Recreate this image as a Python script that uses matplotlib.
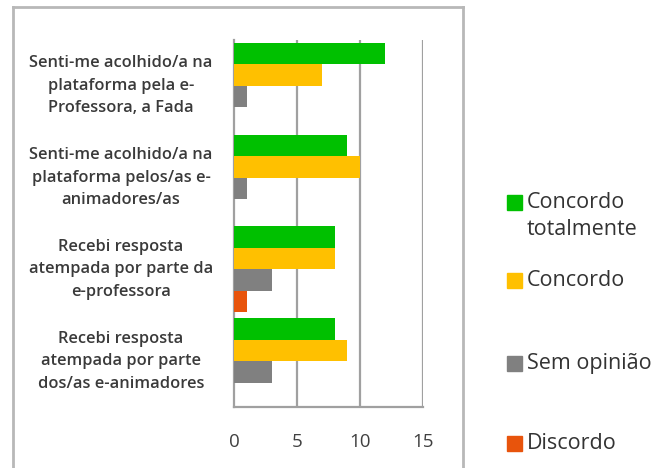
import numpy as np
import matplotlib.pyplot as plt
import matplotlib.transforms as mtransforms
from matplotlib.lines import Line2D
from matplotlib.patches import Rectangle

categories = [
    "Senti-me acolhido/a na\nplataforma pela e-\nProfessora, a Fada",
    "Senti-me acolhido/a na\nplataforma pelos/as e-\nanimadores/as",
    "Recebi resposta\natempada por parte da\ne-professora",
    "Recebi resposta\natempada por parte\ndos/as e-animadores",
]
series = ["Concordo\ntotalmente", "Concordo", "Sem opinião", "Discordo"]
concordo_totalmente = [12, 9, 8, 8]
concordo = [7, 10, 8, 9]
sem_opiniao = [1, 1, 3, 3]
discordo = [0, 0, 1, 0]
values = [concordo_totalmente, concordo, sem_opiniao, discordo]
colors = ["#00c000", "#ffc000", "#808080", "#e8540c"]
xticks = [0, 5, 10, 15]

plt.rcParams["font.family"] = ["Open Sans", "DejaVu Sans"]

fig = plt.figure(figsize=(6.68, 4.68), dpi=100)
W, H = 668, 468
ax = fig.add_axes([234 / W, 1 - 407 / H, (423 - 234) / W, (407 - 40) / H])

y = np.arange(len(categories))
h = 0.235
for k, (vals, col) in enumerate(zip(values, colors)):
    ax.barh(y + (k - 1.5) * h, vals, height=h, color=col, zorder=3)

ax.set_xlim(0, 15)
ax.set_ylim(len(categories) - 0.5, -0.5)
ax.set_xticks(xticks)
ax.set_xticklabels([str(t) for t in xticks], fontsize=13.5, color="#404040")
ax.tick_params(axis="x", length=0, pad=19)
ax.set_yticks([])
for s in ["top", "right"]:
    ax.spines[s].set_visible(False)
for s in ["left", "bottom"]:
    ax.spines[s].set_color("#a0a0a0")
    ax.spines[s].set_linewidth(1.6)
for t in xticks[1:]:
    ax.axvline(t, color="#a0a0a0", lw=1.6, zorder=1)

# category labels, centred in the left margin
blend = mtransforms.blended_transform_factory(fig.transFigure, ax.transData)
for yi, lab in zip(y, categories):
    ax.text(121 / W, yi, lab, transform=blend, ha="center", va="center",
            fontsize=11.8, color="#3a3a3a", linespacing=1.55, fontweight="semibold")

# outer frame
fc = "#b8b8b8"
fig.add_artist(Line2D([13 / W, 13 / W], [0, 1 - 7 / H], transform=fig.transFigure, color=fc, lw=2))
fig.add_artist(Line2D([13 / W, 463 / W], [1 - 7 / H, 1 - 7 / H], transform=fig.transFigure, color=fc, lw=2))
fig.add_artist(Line2D([463 / W, 463 / W], [0, 1 - 7 / H], transform=fig.transFigure, color=fc, lw=2))

# legend
leg_y = [202, 280, 363, 443]
for ly, lab, col in zip(leg_y, series, colors):
    fig.add_artist(Rectangle((507 / W, 1 - (ly + 8) / H), 15 / W, 15 / H,
                             transform=fig.transFigure, color=col))
    fig.text(527 / W, 1 - (ly - 10) / H, lab, ha="left", va="top",
             fontsize=15.5, color="#333333", linespacing=1.35)

fig.savefig("out.png", dpi=100)
